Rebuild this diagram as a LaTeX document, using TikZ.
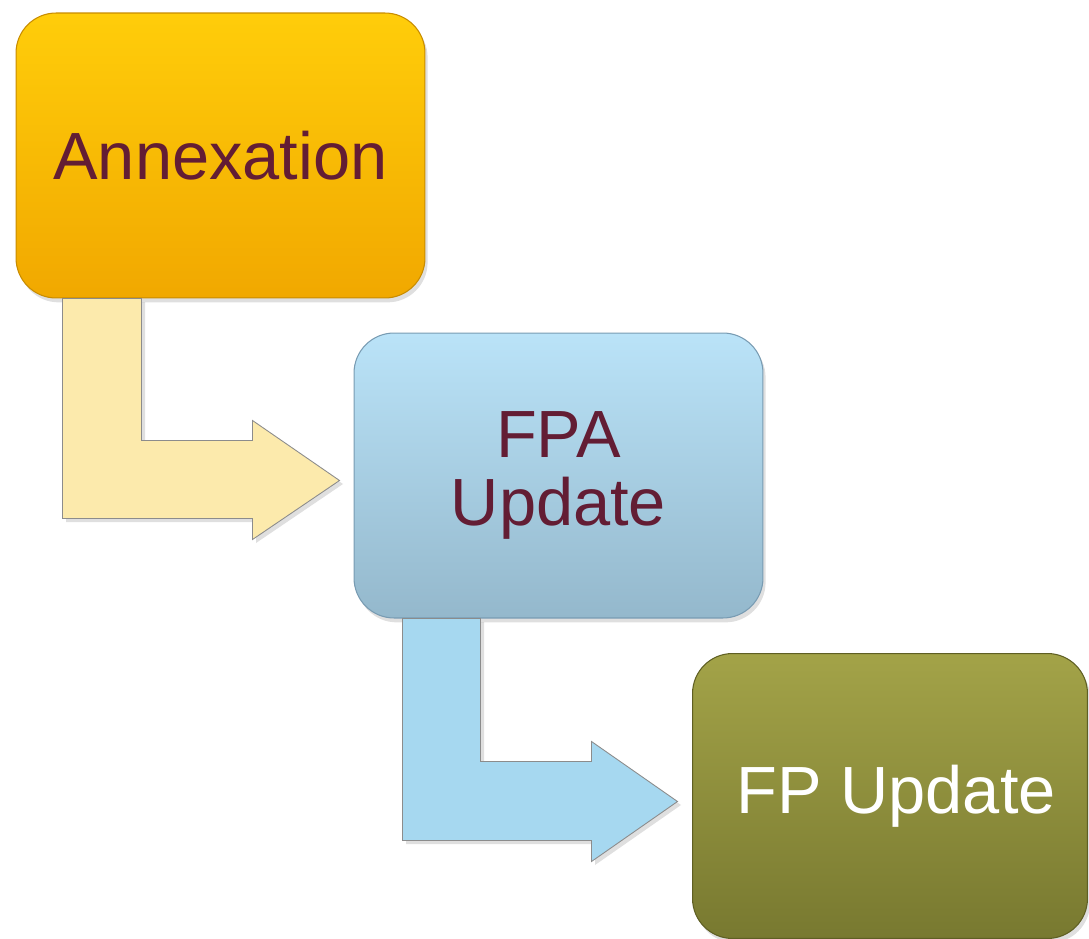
\documentclass[tikz,border=0pt]{standalone}
\usepackage{fontspec}
\setmainfont{Liberation Sans}
\usepackage{tikz}
\usetikzlibrary{positioning, calc, shadows}
\definecolor{granate}{RGB}{99, 29, 52}
\definecolor{oroA}{RGB}{255, 205, 10}
\definecolor{oroB}{RGB}{241, 168, 0}
\definecolor{oroL}{RGB}{200, 140, 0}
\definecolor{cieloA}{RGB}{186, 227, 248}
\definecolor{cieloB}{RGB}{148, 184, 204}
\definecolor{cieloL}{RGB}{120, 155, 178}
\definecolor{olivaA}{RGB}{163, 163, 72}
\definecolor{olivaB}{RGB}{120, 121, 48}
\definecolor{olivaL}{RGB}{95, 95, 35}
\definecolor{paja}{RGB}{252, 234, 172}
\definecolor{celeste}{RGB}{166, 216, 240}
\tikzset{
    stepbox/.style={draw, rectangle, rounded corners=0.8cm, minimum width=8.18cm, minimum height=5.7cm, align=center, font=\fontsize{38}{44}\selectfont, text=granate, line width=0.6pt, drop shadow={opacity=0.25, shadow xshift=1.5pt, shadow yshift=-2.5pt}},
    bent/.style={draw=black!45, line width=0.5pt, drop shadow={opacity=0.25, shadow xshift=2pt, shadow yshift=-2pt}},
}

\begin{document}
\begin{tikzpicture}[x=0.02cm, y=-0.02cm]
        \useasboundingbox (0,0) rectangle (1089,939);

        \node [stepbox, top color=oroA, bottom color=oroB, draw=oroL] (annex) at (220.5,155.5) {Annexation};
        \node [stepbox, top color=cieloA, bottom color=cieloB, draw=cieloL] (fpa) at (558.5,475.5) {FPA\\[-0.14em]Update};
        \node [stepbox, top color=olivaA, bottom color=olivaB, draw=olivaL, minimum width=7.9cm, text=white] (fp) at (890,796) {\hspace{0.25cm}FP Update};

        % bent arrows between the boxes
        \draw [bent, fill=paja] ($(annex.south west)+(47,0)$) -- ++(79,0) -- ++(0,142) -- ++(111,0) -- ++(0,-20)
            -- ++(87,60) -- ++(-87,59) -- ++(0,-21) -- ++(-190,0) -- cycle;
        \draw [bent, fill=celeste] ($(fpa.south west)+(49,0)$) -- ++(78,0) -- ++(0,143) -- ++(111,0) -- ++(0,-20)
            -- ++(86,60) -- ++(-86,60) -- ++(0,-21) -- ++(-189,0) -- cycle;
\end{tikzpicture}
\end{document}
